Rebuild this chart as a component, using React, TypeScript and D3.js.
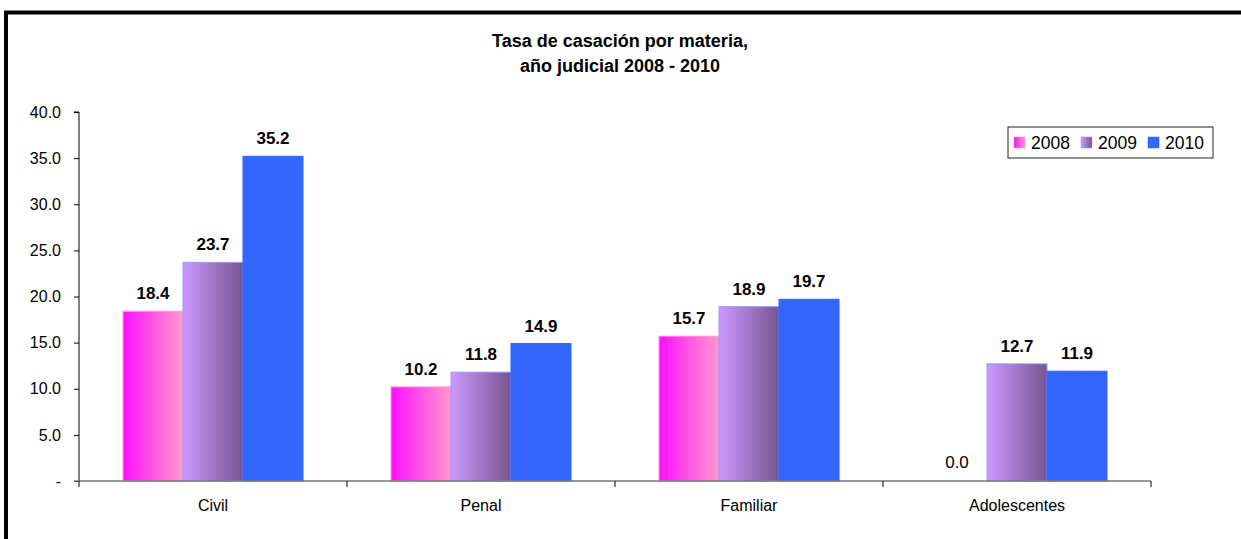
import React, { useEffect, useRef } from "react";
import * as d3 from "d3";

const categories = ["Civil", "Penal", "Familiar", "Adolescentes"];
const years = ["2008", "2009", "2010"];
const values2008 = [18.4, 10.2, 15.7, 0.0];
const values2009 = [23.7, 11.8, 18.9, 12.7];
const values2010 = [35.2, 14.9, 19.7, 11.9];
const yTicks = [0, 5, 10, 15, 20, 25, 30, 35, 40];

const W = 1241;
const H = 539;
const FONT = "Arial, 'Liberation Sans', sans-serif";

const App = () => {
  const ref = useRef<SVGSVGElement>(null);

  useEffect(() => {
    if (!ref.current) return;
    const svg = d3.select(ref.current);
    svg.selectAll("*").remove();

    const left = 79, right = 1151, top = 112, bottom = 481;

    const defs = svg.append("defs");
    const g08 = defs.append("linearGradient").attr("id", "g08");
    g08.append("stop").attr("offset", "0%").attr("stop-color", "#ff10ff");
    g08.append("stop").attr("offset", "100%").attr("stop-color", "#ff99cc");
    const g09 = defs.append("linearGradient").attr("id", "g09");
    g09.append("stop").attr("offset", "0%").attr("stop-color", "#cc99ff");
    g09.append("stop").attr("offset", "100%").attr("stop-color", "#775590");

    const fills = ["url(#g08)", "url(#g09)", "#3366ff"];
    const strokes = ["#ff99cc", "#9999ff", "#3366ff"];
    const series = [values2008, values2009, values2010];

    // outer frame
    svg.append("rect")
      .attr("x", 6).attr("y", 12.5)
      .attr("width", W + 20).attr("height", H + 20)
      .attr("fill", "white").attr("stroke", "black").attr("stroke-width", 4);

    svg.append("text")
      .attr("x", 620).attr("y", 47)
      .attr("text-anchor", "middle")
      .style("font", `bold 18px ${FONT}`)
      .text("Tasa de casación por materia,");
    svg.append("text")
      .attr("x", 620).attr("y", 72)
      .attr("text-anchor", "middle")
      .style("font", `bold 18px ${FONT}`)
      .text("año judicial 2008 - 2010");

    const x = d3.scaleBand().domain(categories).range([left, right]);
    const inner = d3.scaleBand().domain(years).range([0, 180]);
    const y = d3.scaleLinear().domain([0, 40]).range([bottom, top]);

    // y axis
    const yAxis = svg.append("g").attr("transform", `translate(${left},0)`)
      .call(d3.axisLeft(y).tickValues(yTicks).tickSize(5).tickPadding(13)
        .tickFormat((d: any) => (d === 0 ? "-" : d3.format(".1f")(d))));
    yAxis.select(".domain").attr("stroke", "black").attr("d", `M-5,${top}H0V${bottom}`);
    yAxis.selectAll("text").style("font", `16px ${FONT}`).attr("fill", "black");

    // bars
    categories.forEach((c, ci) => {
      const gx = (x(c) as number) + (x.bandwidth() - 180) / 2;
      series.forEach((vals, si) => {
        const v = vals[ci];
        const bx = gx + (inner(years[si]) as number);
        if (v > 0) {
          svg.append("rect")
            .attr("x", bx).attr("y", y(v))
            .attr("width", inner.bandwidth()).attr("height", bottom - y(v))
            .attr("fill", fills[si]).attr("stroke", strokes[si]).attr("stroke-width", 1);
        }
        svg.append("text")
          .attr("x", bx + inner.bandwidth() / 2)
          .attr("y", y(v) - (v > 0 ? 12 : 13))
          .attr("text-anchor", "middle")
          .style("font", v > 0 ? `bold 17px ${FONT}` : `17px ${FONT}`)
          .text(d3.format(".1f")(v));
      });
    });

    // x axis
    svg.append("line")
      .attr("x1", left - 5).attr("x2", right)
      .attr("y1", bottom).attr("y2", bottom)
      .attr("stroke", "#777").attr("stroke-width", 1.5);
    const bounds = [left, ...categories.map((c) => (x(c) as number) + x.bandwidth())];
    bounds.forEach((bx) => {
      svg.append("line")
        .attr("x1", bx).attr("x2", bx)
        .attr("y1", bottom).attr("y2", bottom + 6)
        .attr("stroke", "black");
    });
    categories.forEach((c) => {
      svg.append("text")
        .attr("x", (x(c) as number) + x.bandwidth() / 2)
        .attr("y", bottom + 30)
        .attr("text-anchor", "middle")
        .style("font", `16px ${FONT}`)
        .text(c);
    });

    // legend
    const lg = svg.append("g").attr("transform", "translate(1008,127)");
    lg.append("rect").attr("width", 205).attr("height", 31)
      .attr("fill", "white").attr("stroke", "#222").attr("stroke-width", 1);
    const offsets = [6, 73, 140];
    years.forEach((yr, i) => {
      lg.append("rect")
        .attr("x", offsets[i]).attr("y", 10).attr("width", 11).attr("height", 11)
        .attr("fill", fills[i]).attr("stroke", strokes[i]).attr("stroke-width", 0.5);
      lg.append("text")
        .attr("x", offsets[i] + 17).attr("y", 22)
        .style("font", `17.5px ${FONT}`)
        .text(yr);
    });
  }, []);

  return (
    <svg ref={ref} width={W} height={H}
      style={{ position: "absolute", left: 0, top: 0, background: "white" }} />
  );
};

export default App;
